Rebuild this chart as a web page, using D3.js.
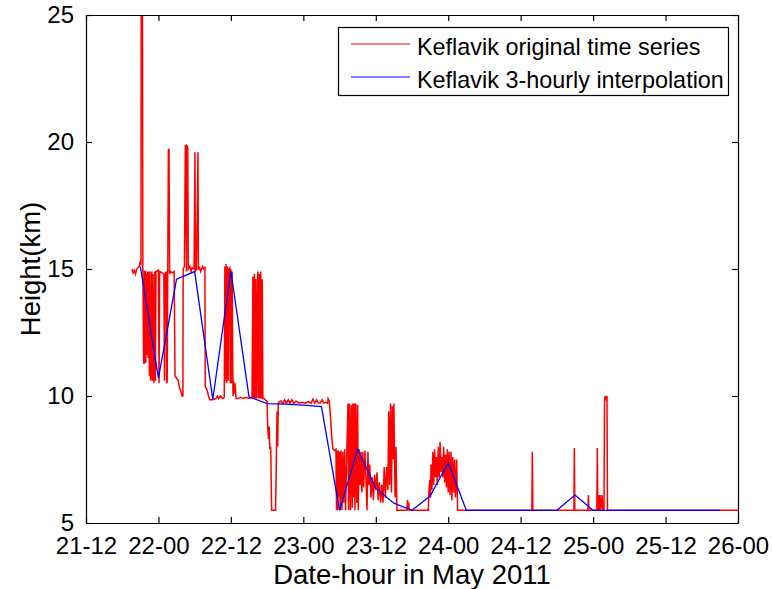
<!DOCTYPE html>
<html>
<head>
<meta charset="utf-8">
<script src="https://cdn.jsdelivr.net/npm/d3@7"></script>
<style>
  body { margin: 0; background: #fff; }
  svg { display: block; }
  text { font-family: "Liberation Sans", Arial, Helvetica, sans-serif; fill: #000; }
</style>
</head>
<body>
<svg id="chart" width="772" height="589"></svg>
<script>
// Time axis: hours counted from 21 May 2011, 12:00 UTC
const xTickHours  = [0, 12, 24, 36, 48, 60, 72, 84, 96, 108];
const xTickLabels = ["21-12", "22-00", "22-12", "23-00", "23-12", "24-00", "24-12", "25-00", "25-12", "26-00"];
const yTickValues = [5, 10, 15, 20, 25];

const seriesNames = ["Keflavik original time series", "Keflavik 3-hourly interpolation"];

// Keflavik plume height, original observations (hour, km)
const obsHour = [
  7.62,7.8,8.0,8.2,8.4,8.6,8.8,8.95,9.1,9.15,
  9.35,9.42,9.55,9.65,9.7,9.85,9.9,10.0,10.1,10.2,
  10.3,10.4,10.5,10.6,10.7,10.8,10.9,11.0,11.1,11.25,
  11.4,11.5,11.6,12.0,12.1,12.2,12.6,12.9,13.0,13.1,
  13.3,13.35,13.45,13.65,13.75,13.85,14.0,14.3,14.6,14.75,
  15.0,15.3,15.5,15.7,15.9,16.05,16.1,16.3,16.45,16.5,
  16.65,16.7,16.85,16.95,17.2,17.4,17.6,17.9,18.05,18.12,
  18.3,18.55,18.62,18.8,19.0,19.3,19.5,19.7,19.75,19.9,
  20.1,20.3,20.5,21.0,21.5,21.8,22.0,22.3,22.6,22.9,
  23.0,23.1,23.2,23.3,23.4,23.55,23.65,23.8,23.9,24.0,
  24.1,24.2,24.35,24.45,24.6,24.7,24.85,25.2,25.6,26.0,
  26.5,27.0,27.5,27.65,27.75,27.9,28.0,28.15,28.25,28.45,
  28.55,28.7,28.8,28.95,29.05,29.2,29.3,29.5,29.7,30.0,
  30.1,30.25,30.35,30.45,30.6,30.75,31.4,31.55,31.65,31.75,
  31.85,31.95,32.3,32.6,32.9,33.2,33.5,33.8,34.1,34.4,
  34.8,35.3,35.8,36.3,36.8,37.3,37.6,37.9,38.2,38.5,
  38.8,39.1,39.4,39.7,40.0,40.1,40.3,40.5,40.7,40.9,
  41.2,41.4,41.5,41.6,41.7,41.8,41.9,42.0,42.1,42.25,
  42.4,42.55,42.7,42.85,43.0,43.2,43.4,43.5,43.65,43.8,
  43.95,44.1,44.2,44.35,44.45,44.55,44.7,44.85,45.0,45.1,
  45.25,45.4,45.55,45.7,45.85,46.0,46.2,46.4,46.55,46.7,
  46.85,47.0,47.2,47.4,47.6,47.8,48.0,48.2,48.4,48.6,
  48.8,49.0,49.2,49.4,49.6,49.8,50.0,50.15,50.3,50.45,
  50.6,50.75,50.9,51.0,51.2,51.35,51.5,53.15,53.25,53.35,
  53.45,53.55,56.7,56.8,56.95,57.05,57.15,57.3,57.45,57.6,
  57.75,57.9,58.05,58.2,58.35,58.5,58.65,58.8,58.95,59.1,
  59.25,59.4,59.55,59.7,59.85,60.0,60.15,60.3,60.45,60.6,
  60.75,60.9,61.05,61.2,61.4,61.55,73.85,73.93,74.02,80.82,
  80.89,80.97,83.15,83.22,83.3,84.62,84.7,84.78,84.9,85.0,
  85.15,85.25,85.5,85.6,85.8,85.9,86.0,86.15,86.3,86.38,
  108.0
];
const obsKm = [
  15.0,14.85,14.95,14.8,15.0,15.05,15.1,15.25,15.2,25.5,
  25.5,14.9,11.3,11.3,14.9,14.9,11.3,14.8,11.6,14.9,
  11.5,14.9,10.8,14.9,10.6,10.9,14.9,10.6,14.8,10.5,
  14.9,10.6,14.9,14.95,10.5,14.9,14.85,14.8,10.6,14.8,
  14.9,10.5,10.6,19.7,19.7,14.8,14.9,14.85,14.9,10.8,
  10.7,10.6,10.3,10.2,10.0,10.0,15.0,15.1,19.85,19.85,
  14.9,19.85,19.8,15.0,15.1,14.9,15.05,15.0,19.6,14.9,
  15.0,19.6,15.0,15.05,14.9,15.1,15.0,15.05,10.4,10.3,
  10.2,10.0,9.85,9.85,9.9,10.0,9.9,10.0,9.9,9.95,
  15.1,10.6,15.2,10.5,15.1,10.6,15.0,15.05,10.5,15.0,
  10.5,14.9,10.0,10.6,10.1,10.5,9.9,9.9,9.95,9.9,
  9.95,9.9,9.95,14.7,9.9,14.8,9.9,14.6,9.9,14.9,
  9.9,14.8,9.9,14.9,9.9,14.6,9.9,9.9,9.85,9.8,
  8.7,8.3,8.8,7.9,8.0,5.5,5.5,7.9,9.4,8.0,
  9.7,9.75,9.8,9.7,9.85,9.72,9.85,9.72,9.85,9.72,
  9.8,9.72,9.75,9.72,9.78,9.72,9.88,9.72,9.85,9.72,
  9.72,9.85,9.72,9.75,9.72,9.9,9.8,9.2,8.4,7.9,
  7.85,7.9,5.5,7.85,5.5,7.85,6.0,7.8,5.5,7.85,
  5.5,7.8,5.8,7.9,5.5,7.8,9.7,5.5,9.7,5.5,
  9.65,5.6,9.7,6.0,9.7,5.5,9.7,5.8,9.65,5.5,
  7.9,6.5,7.8,6.2,7.8,6.4,7.85,6.6,5.5,7.8,
  6.5,7.3,6.0,6.8,5.9,6.9,6.3,7.0,5.9,6.6,
  5.8,6.5,5.8,7.2,6.0,7.2,6.3,9.4,6.5,9.7,
  6.2,9.6,7.5,9.7,6.0,8.0,5.5,5.5,5.9,5.5,
  5.8,5.5,5.5,6.2,6.7,6.0,7.3,6.3,7.8,6.5,
  7.9,6.8,7.6,6.5,8.0,6.8,8.2,7.0,7.6,6.8,
  8.0,6.6,7.7,6.4,7.9,6.2,7.8,6.1,7.8,5.9,
  7.6,6.2,7.5,6.0,7.5,5.5,5.5,7.8,5.5,5.5,
  7.95,5.5,5.5,6.1,5.5,5.5,7.95,5.5,6.1,5.5,
  6.1,5.5,6.1,5.5,5.5,9.8,10.0,9.9,10.0,5.5,
  5.5
];

// 3-hourly interpolated heights (hour, km)
const interpHour = [
  9,12,15,18,21,24,27,30,33,36,39,42,45,48,51,54,57,
  60,63,66,69,72,75,78,81,84,87,90,93,96,99,102,105
];
const interpKm = [
  15.1,10.7,14.6,14.9,9.87,14.92,9.97,9.7,9.68,9.64,9.58,5.5,7.9,6.37,5.78,5.5,6.06,
  7.37,5.5,5.5,5.5,5.5,5.5,5.5,6.1,5.5,5.5,5.5,5.5,5.5,5.5,5.5,5.5
];

const svg = d3.select("#chart");
const plot = { left: 86, right: 738, top: 15, bottom: 523 };

const x = d3.scaleLinear().domain([0, 108]).range([plot.left, plot.right]);
const y = d3.scaleLinear().domain([5, 25]).range([plot.bottom, plot.top]);

svg.append("defs").append("clipPath").attr("id", "plotClip")
  .append("rect")
  .attr("x", plot.left).attr("y", plot.top)
  .attr("width", plot.right - plot.left).attr("height", plot.bottom - plot.top);

const line = d3.line().x(d => x(d[0])).y(d => y(d[1]));

const obsData = obsHour.map((h, i) => [h, obsKm[i]]);
const interpData = interpHour.map((h, i) => [h, interpKm[i]]);

const lines = svg.append("g").attr("clip-path", "url(#plotClip)");
lines.append("path").datum(obsData)
  .attr("d", line).attr("fill", "none")
  .attr("stroke", "#ff0000").attr("stroke-width", 1.5)
  .attr("stroke-linejoin", "miter");
lines.append("path").datum(interpData)
  .attr("d", line).attr("fill", "none")
  .attr("stroke", "#0000ff").attr("stroke-width", 1.3);

// Axes: ticks pointing inward on all four sides
const tickLen = 6;
const fontTick = 24;

const xBottom = d3.axisBottom(x).tickValues(xTickHours).tickFormat((d, i) => xTickLabels[i])
  .tickSizeInner(-tickLen).tickSizeOuter(0).tickPadding(14);
const gxb = svg.append("g").attr("transform", `translate(0,${plot.bottom})`).call(xBottom);

const xTop = d3.axisTop(x).tickValues(xTickHours).tickFormat("")
  .tickSizeInner(-tickLen).tickSizeOuter(0);
const gxt = svg.append("g").attr("transform", `translate(0,${plot.top})`).call(xTop);

const yLeft = d3.axisLeft(y).tickValues(yTickValues).tickFormat(d3.format("d"))
  .tickSizeInner(-tickLen).tickSizeOuter(0).tickPadding(12);
const gyl = svg.append("g").attr("transform", `translate(${plot.left},0)`).call(yLeft);

const yRight = d3.axisRight(y).tickValues(yTickValues).tickFormat("")
  .tickSizeInner(-tickLen).tickSizeOuter(0);
const gyr = svg.append("g").attr("transform", `translate(${plot.right},0)`).call(yRight);

[gxb, gxt, gyl, gyr].forEach(g => {
  g.select(".domain").attr("stroke", "#000").attr("stroke-width", 1.2);
  g.selectAll(".tick line").attr("stroke", "#000").attr("stroke-width", 1.2);
  g.selectAll(".tick text")
    .style("font-family", "'Liberation Sans', Arial, sans-serif")
    .style("font-size", fontTick + "px").attr("fill", "#000");
});

// Axis titles
svg.append("text")
  .attr("x", (plot.left + plot.right) / 2).attr("y", 584)
  .attr("text-anchor", "middle").style("font-size", "27.5px")
  .text("Date-hour in May 2011");

svg.append("text")
  .attr("transform", `translate(40,${(plot.top + plot.bottom) / 2}) rotate(-90)`)
  .attr("text-anchor", "middle").style("font-size", "27.5px")
  .text("Height(km)");

// Legend
const legend = svg.append("g");
legend.append("rect")
  .attr("x", 338.5).attr("y", 27.5).attr("width", 390).attr("height", 68)
  .attr("fill", "#fff").attr("stroke", "#000").attr("stroke-width", 1.2);
const legendColors = ["#ff0000", "#0000ff"];
seriesNames.forEach((name, i) => {
  const cy = 44 + i * 33;
  legend.append("line")
    .attr("x1", 351).attr("x2", 410).attr("y1", cy).attr("y2", cy)
    .attr("stroke", legendColors[i]).attr("stroke-width", 1.2);
  legend.append("text")
    .attr("x", 417).attr("y", cy + 11)
    .style("font-size", "23.4px")
    .text(name);
});
</script>
</body>
</html>
